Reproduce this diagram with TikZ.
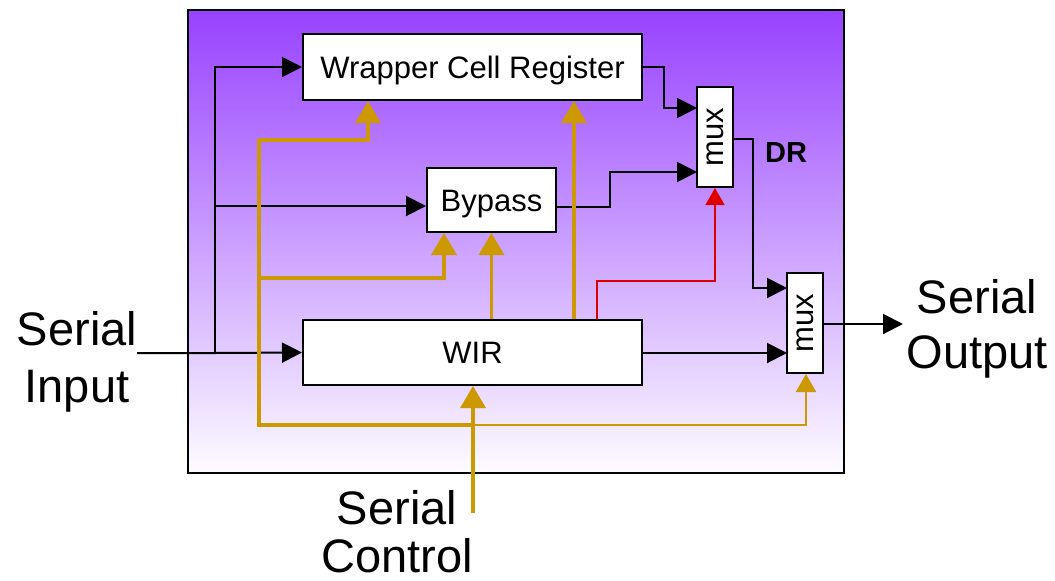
\documentclass[tikz,border=0pt]{standalone}
\usepackage{fontspec}
\setmainfont{Liberation Sans}
\usepackage{graphicx}
\usetikzlibrary{arrows.meta,calc}
\definecolor{goldc}{RGB}{204,153,0}
\definecolor{redc}{RGB}{221,0,0}
\definecolor{purtop}{RGB}{152,66,255}
\definecolor{purbot}{RGB}{253,252,255}
\tikzset{
  blockbox/.style={draw=black,line width=2pt,fill=white,inner sep=0pt,text height=22pt,text depth=0pt,font=\fontsize{31}{36}\selectfont},
  muxbox/.style={draw=black,line width=2pt,fill=white,inner sep=0pt,minimum width=36pt,minimum height=100pt,font=\fontsize{31}{34}\selectfont},
  bigtext/.style={inner sep=0pt,anchor=base,font=\fontsize{47}{56}\selectfont},
  blk/.style={draw=black,line width=2pt,-{Triangle[length=20pt,width=20pt]}},
  goldline/.style={draw=goldc,line width=3.5pt},
  goldarr/.style={draw=goldc,line width=3.5pt,-{Triangle[length=22pt,width=25pt]}},
  goldthin/.style={draw=goldc,line width=2pt,-{Triangle[length=18pt,width=20pt]}},
  redarr/.style={draw=redc,line width=1.5pt,-{Triangle[length=17pt,width=19pt]}}
}
\begin{document}
\begin{tikzpicture}[x=1pt,y=-1pt]
\useasboundingbox (0,0) rectangle (1055,581);
% frame
\node[draw=black,line width=2.5pt,top color=purtop,bottom color=purbot,inner sep=0pt,
  minimum width=656pt,minimum height=463pt] (frame) at (516,241.5) {};
% blocks
\node[blockbox,minimum width=339pt,minimum height=66pt] (wcr) at (472.5,67) {Wrapper Cell Register};
\node[blockbox,minimum width=129pt,minimum height=64pt] (byp) at (491.5,200) {Bypass};
\node[blockbox,minimum width=339pt,minimum height=65pt] (wir) at (472.5,352.5) {WIR};
\node[muxbox] (mux1) at (715,137) {\rotatebox{90}{mux}};
\node[muxbox] (mux2) at (805,323) {\rotatebox{90}{mux}};
\node[inner sep=0pt,font=\fontsize{29}{34}\selectfont\bfseries] (dr) at (786,153) {DR};
% outer texts
\node[bigtext] (si1) at (77,345) {Serial};
\node[bigtext] (si2) at (77,402) {Input};
\node[bigtext] (so1) at (977,313) {Serial};
\node[bigtext] (so2) at (977,368) {Output};
\node[bigtext] (sc1) at (397,524) {Serial};
\node[bigtext] (sc2) at (397,572) {Control};
% coordinates
\coordinate (sin) at (137,353);
\coordinate (jA) at (215,353);
\coordinate (jB) at (215,206);
\coordinate (sout) at (903,324);
\coordinate (gA) at (259,140);
\coordinate (gB) at (259,278);
\coordinate (gC) at (259,425);
\coordinate (gD) at (473,425);
\coordinate (gE) at (806,425);
\coordinate (gF) at (368,140);
\coordinate (gG) at (444,278);
\coordinate (sc) at (473,513);
\coordinate (x574) at (574,0);
\coordinate (rA) at (597,0);
\coordinate (m1a) at (697,108);
\coordinate (m1b) at (697,172);
\coordinate (m2a) at (787,288);
\coordinate (m2b) at (787,353);
% black connectors
\draw[blk] (sin) -- (jA) -- (wir.west);
\draw[blk] (jA) |- (wcr.west);
\draw[blk] (jB) -- (jB -| byp.west);
\draw[blk] (wcr.east) -- ++(21,0) |- (m1a);
\draw[blk] (byp.east |- 0,207) -- (610,207) |- (m1b);
\draw[blk] (mux1.east |- 0,139) -- (753,139) |- (m2a);
\draw[blk] (wir.east |- m2b) -- (m2b);
\draw[blk] (mux2.east |- sout) -- (sout);
% red
\draw[redarr] (wir.north -| rA) -- (597,281) -| (mux1.south);
% gold
\draw[goldline,line cap=round] (gA) -- (gC) -- (gD);
\draw[goldthin] (gD) -- (gE) -- (gE |- mux2.south);
\draw[goldarr] (gA) -- (gF) -- (gF |- wcr.south);
\draw[goldarr] (gB) -- (gG) -- (gG |- byp.south);
\draw[goldarr] (sc) -- (sc |- wir.south);
\draw[goldarr] (wir.north -| byp.south) -- (byp.south);
\draw[goldarr] (wir.north -| x574) -- (wcr.south -| x574);
\end{tikzpicture}
\end{document}
